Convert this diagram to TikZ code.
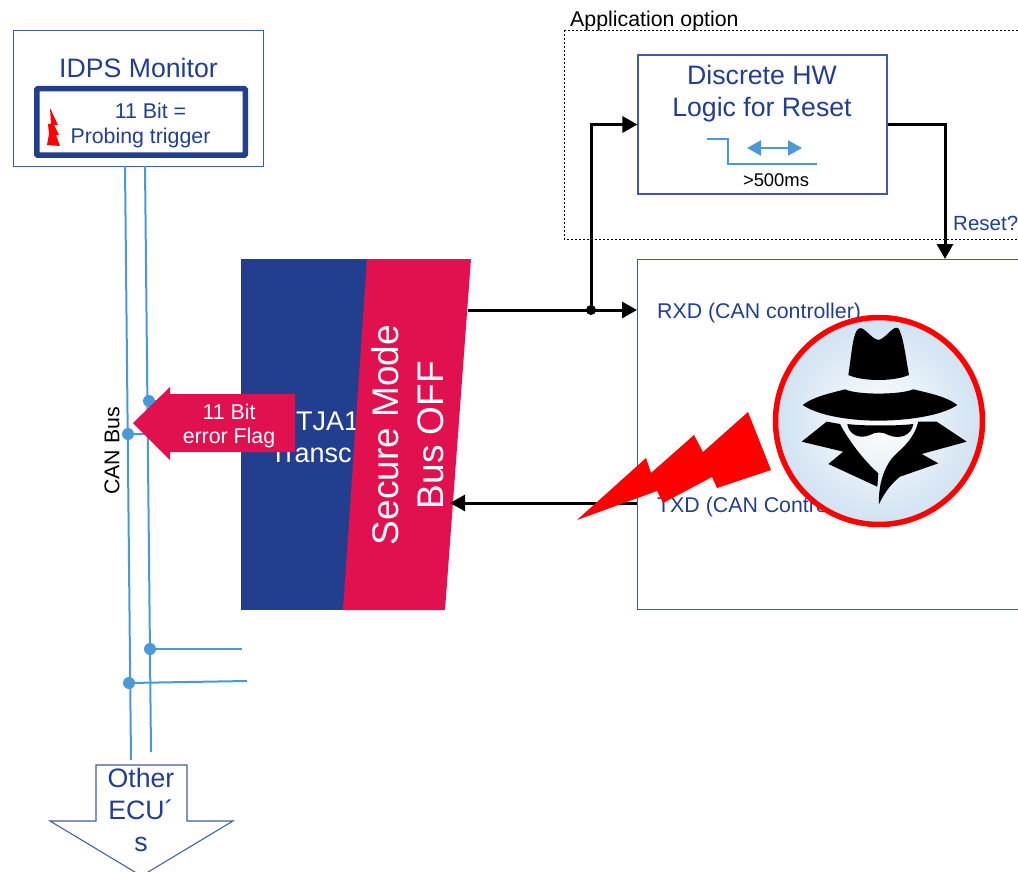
\documentclass[tikz,border=0pt]{standalone}
\usepackage{fontspec}
\setmainfont{Liberation Sans}
\usetikzlibrary{arrows.meta}
\definecolor{navy}{HTML}{223F8F}
\definecolor{edgeblue}{HTML}{3F5BA6}
\definecolor{busblue}{HTML}{4A98D8}
\definecolor{alarm}{HTML}{E1104F}
\definecolor{halo}{HTML}{D0E2F2}
\tikzset{
  main/.style = {draw=edgeblue, line width=1.05pt, inner sep=0pt},
  big/.style = {inner sep=0pt, align=center, text=navy, font=\fontsize{26.67}{32}\selectfont},
  small/.style = {inner sep=0pt, align=center, text=navy, font=\fontsize{21.33}{25}\selectfont},
  bus/.style = {draw=busblue, line width=2pt},
  dot/.style = {circle, fill=busblue, inner sep=0pt, minimum size=12pt},
  flow/.style = {draw=black, line width=3pt, -{Triangle[length=15pt,width=16pt]}},
  spy/.style = {fill=black, draw=none}
}
\begin{document}
\begin{tikzpicture}[x=1pt, y=-1pt]
\useasboundingbox (0,0) rectangle (1018,872);
\clip (0,0) rectangle (1018,872);
% monitor
\node[main, minimum width=250pt, minimum height=136pt] (monitor) at (138.2,98.4) {};
\node[big] (monitortext) at (138.5,68) {IDPS Monitor};
\node[draw=navy, line width=5.5pt, rounded corners=1pt, inner sep=0pt, minimum width=208.5pt, minimum height=66.5pt] (probe) at (141,122) {};
\node[small, anchor=center] (probetext) at (140.5,125) {\hspace*{20pt}11 Bit =\\Probing trigger};
\fill[red] (50,108) -- (58,125) -- (54,125) -- (59,135) -- (56,135) -- (60,146) -- (47,145) -- (49,134) -- (48,124) -- (51,124) -- cycle;
% bus lines
\coordinate (busa) at (125,166);
\coordinate (busb) at (145,166);
\coordinate (busc) at (131,760);
\coordinate (busd) at (151,752);
\draw[bus] (busa) -- (busc);
\draw[bus] (busb) -- (busd);
\node[dot] (1) at (149,401) {};
\node[dot] (2) at (128,434) {};
\node[dot] (3) at (150,649) {};
\node[dot] (4) at (129,683) {};
\coordinate (t3) at (242,649);
\coordinate (t4) at (247,681);
\draw[bus] (1) -- (241,401);
\draw[bus] (2) -- (241,434);
\draw[bus] (3) -- (t3);
\draw[bus] (4) -- (t4);
\node[rotate=90, inner sep=0pt, font=\fontsize{21.33}{25}\selectfont] (bustext) at (112,451) {CAN Bus};
% transceiver
\fill[navy] (241,259) rectangle (372,610);
\node[inner sep=0pt, align=left, anchor=west, text=white, font=\fontsize{27}{32}\selectfont] (tja) at (270,437) {\hspace*{26pt}TJA1\\Transc};
\fill[alarm] (367,259) -- (471,259) -- (445,610) -- (343,610) -- cycle;
\node[rotate=90, inner sep=0pt, align=center, text=white, font=\fontsize{37}{45}\selectfont] (secure) at (407.5,435) {Secure Mode\\Bus OFF};
\fill[alarm] (133,423) -- (170,387) -- (170,394) -- (295,394) -- (295,452) -- (170,452) -- (170,460) -- cycle;
\node[inner sep=0pt, align=center, text=white, font=\fontsize{21.33}{24}\selectfont] (flag) at (229,426) {11 Bit\\error Flag};
% application option
\draw[black, line width=0.8pt, dash pattern=on 2pt off 2pt] (564,30) rectangle (1030,239);
\node[inner sep=0pt, anchor=west, font=\fontsize{21.33}{25}\selectfont] (apptext) at (570,21) {Application option};
\node[main, minimum width=249pt, minimum height=139pt] (logic) at (762.5,124.5) {};
\node[big] (logictext) at (762,94) {Discrete HW\\Logic for Reset};
\draw[draw=busblue, line width=2pt] (707,139) -- (728,139) -- (728,164) -- (817,164);
\coordinate (pa) at (747,148);
\coordinate (pb) at (802,148);
\draw[busblue, line width=2pt, {Triangle[length=14pt,width=15pt]}-{Triangle[length=14pt,width=15pt]}] (pa) -- (pb);
\node[inner sep=0pt, font=\fontsize{18.4}{22}\selectfont] (timetext) at (776,180) {>500ms};
% controller
\node[main, minimum width=400pt, minimum height=350pt, anchor=north west] (ctrl) at (637,259) {};
\node[small, anchor=west] (rxd) at (657,313) {RXD (CAN controller)};
\node[small, anchor=west] (txd) at (657,507) {TXD (CAN Controller)};
\node[inner sep=0pt, anchor=west, text=navy, font=\fontsize{20.5}{25}\selectfont] (reset) at (953,223) {Reset?};
\coordinate (rxdout) at (468,310);
\coordinate (txdout) at (637,503);
\coordinate (txdin) at (450,503);
\coordinate (branch) at (591,310);
\coordinate (ret) at (945,125);
\draw[flow] (rxdout) -- (rxdout -| ctrl.west);
\draw[flow] (branch) -- (branch |- logic.west) -- (logic.west);
\draw[flow] (logic.east |- ret) -- (ret) -- (ret |- ctrl.north);
\draw[flow] (txdout) -- (txdin);
\fill[black] (branch) circle (5pt);
% bolt
\fill[red] (577,520) -- (646,458) -- (651,473) -- (694,435) -- (703,452) -- (748,412) -- (771,470) -- (717,488) -- (712,477) -- (663,503) -- (657,491) -- cycle;
% spy
\node[circle, draw=red, line width=5.5pt, inner color=white, outer color=halo, inner sep=0pt, minimum size=207pt] (spy) at (879,421) {};
\begin{scope}[shift={(760,300)}, scale=1/3]
\fill[spy] (265,225) .. controls (275,160) and (278,105) .. (293,88) .. controls (310,72) and (330,115) .. (355,120) .. controls (380,115) and (400,72) .. (416,86) .. controls (430,110) and (437,170) .. (447,225) .. controls (400,245) and (310,245) .. cycle;
\fill[spy] (128,315) .. controls (160,290) and (210,280) .. (255,268) .. controls (290,285) and (420,285) .. (460,268) .. controls (510,280) and (560,290) .. (592,315) .. controls (540,350) and (430,362) .. (355,362) .. controls (280,362) and (180,350) .. cycle;
\fill[spy] (262,372) .. controls (300,378) and (420,378) .. (460,372) .. controls (455,405) and (420,420) .. (385,405) .. controls (370,395) and (345,395) .. (330,405) .. controls (295,420) and (265,400) .. cycle;
\fill[spy] (125,425) -- (200,365) -- (240,372) .. controls (265,420) and (310,480) .. (355,520) -- (352,560) -- (205,492) -- (250,455) -- cycle;
\fill[spy] (357,612) .. controls (355,570) and (365,510) .. (400,470) .. controls (430,440) and (460,420) .. (475,365) -- (530,365) -- (620,425) -- (485,462) -- (535,490) -- (420,530) .. controls (395,550) and (375,575) .. cycle;
\end{scope}
% other ecus
\draw[draw=edgeblue, line width=1.05pt, fill=white] (96,765) -- (187,765) -- (187,821) -- (233,821) -- (141.5,876) -- (50,821) -- (96,821) -- cycle;
\node[big] (ecutext) at (141,810) {Other\\ECU´\\s};
\end{tikzpicture}
\end{document}
